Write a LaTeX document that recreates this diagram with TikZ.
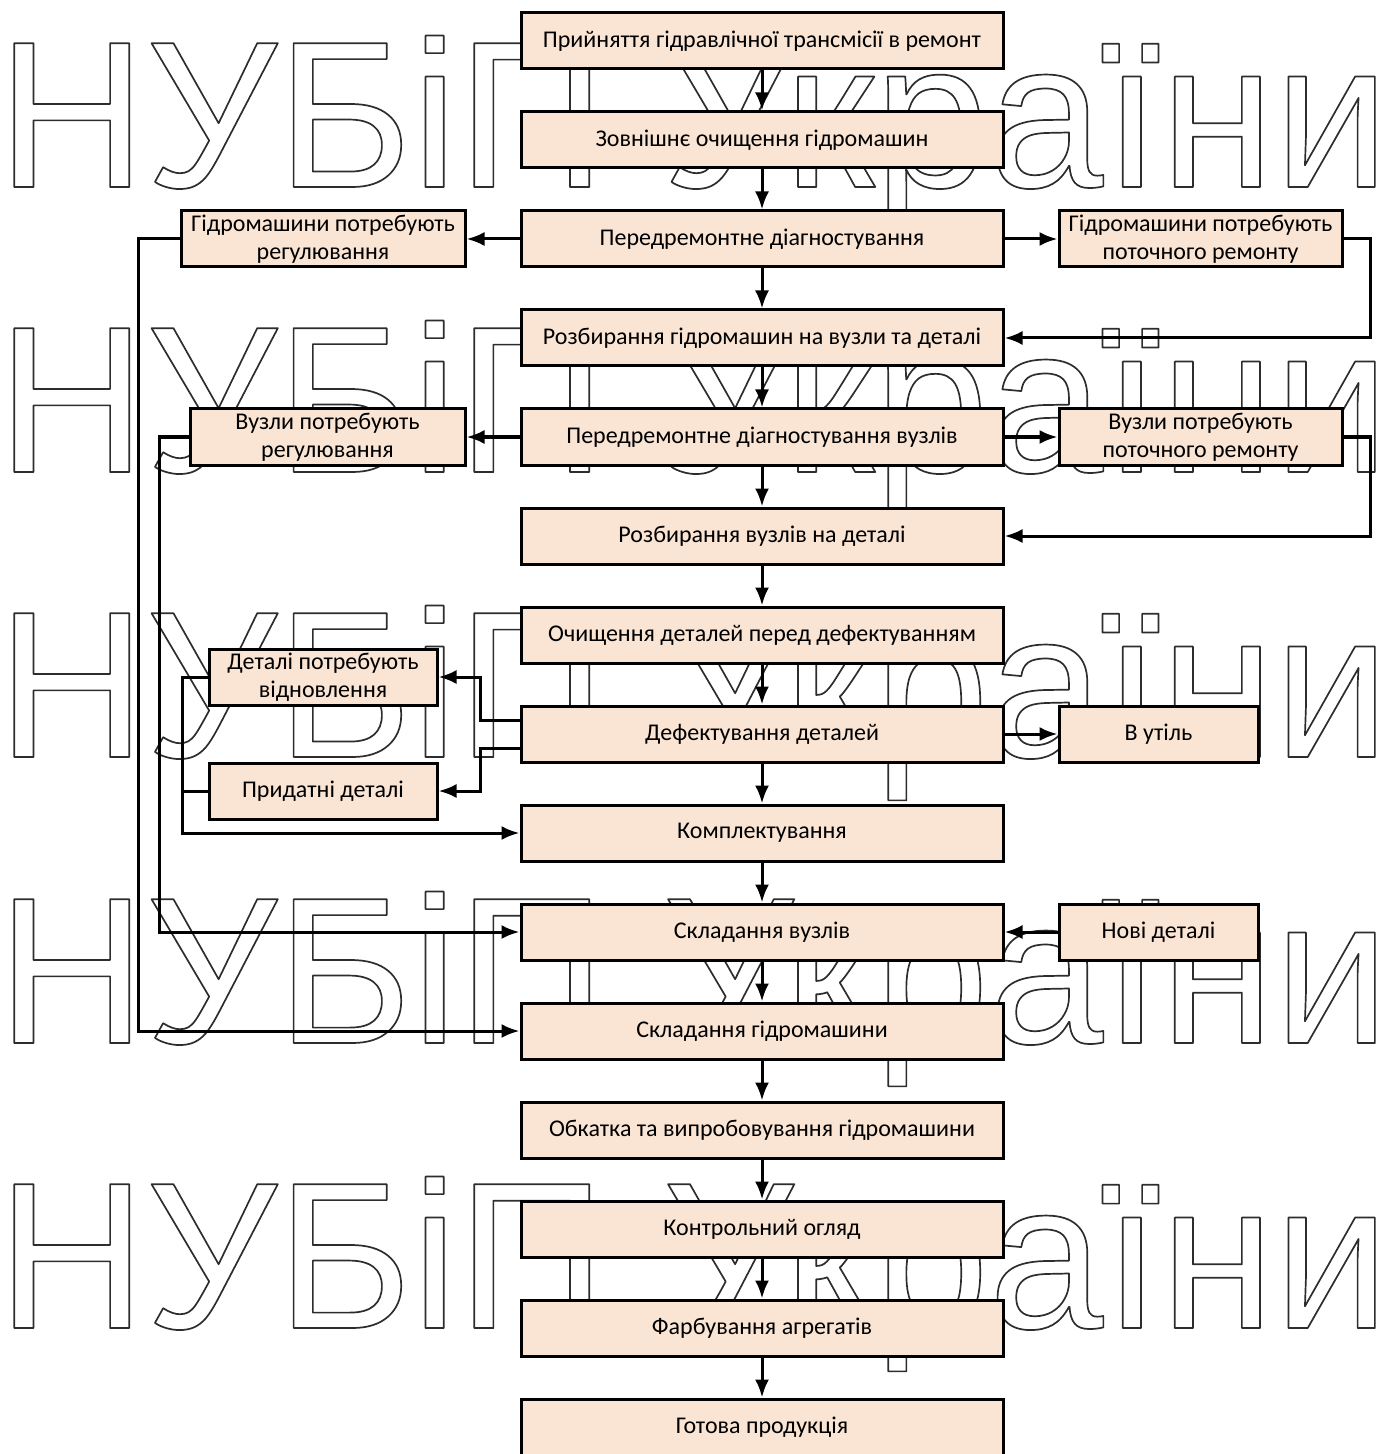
\documentclass[tikz,border=0pt]{standalone}
\usepackage{fontspec}
\setmainfont{Carlito}
\newfontfamily\wmfont{Liberation Sans}
\usetikzlibrary{arrows.meta}
\definecolor{boxfill}{RGB}{250,229,213}
\definecolor{wmcol}{RGB}{45,45,45}
\newcommand\outlinetxt[1]{\special{pdf:literal direct 1 Tr 0.85 w 1 j}#1\special{pdf:literal direct 0 Tr}}
\tikzset{
  mainbox/.style={draw, line width=1.5pt, fill=boxfill, minimum width=241pt,
    minimum height=28pt, inner sep=0pt, font=\fontsize{12}{14}\selectfont, align=center},
  sidebox/.style={mainbox, minimum width=#1},
  conn/.style={line width=1.5pt, -{Latex[length=9pt,width=7pt]}},
  plainline/.style={line width=1.5pt},
  wmnode/.style={anchor=base west, inner sep=0pt, text=wmcol},
}
\begin{document}
\begin{tikzpicture}[x=0.5pt,y=-0.5pt]
\useasboundingbox (0,0) rectangle (1394,1454);
\fill[white] (0,0) rectangle (1394,1454);
% watermark
\foreach \yb [count=\i] in {187,472,757,1043,1328}{
  \node[wmnode] (wm\i) at (-3,\yb) {\scalebox{0.985}[1]{\wmfont\fontsize{104.5}{104.5}\selectfont\outlinetxt{НУБіП України}}};
}
% main column
\foreach \t [count=\k from 0] in {
  Прийняття гідравлічної трансмісії в ремонт,
  Зовнішнє очищення гідромашин,
  Передремонтне діагностування,
  Розбирання гідромашин на вузли та деталі,
  Передремонтне діагностування вузлів,
  Розбирання вузлів на деталі,
  Очищення деталей перед дефектуванням,
  Дефектування деталей,
  Комплектування,
  Складання вузлів,
  Складання гідромашини,
  Обкатка та випробовування гідромашини,
  Контрольний огляд,
  Фарбування агрегатів,
  Готова продукція}{
  \node[mainbox] (m\k) at (762,41+99*\k) {\t};
}
% side boxes
\node[sidebox=142pt] (A) at (323,239) {Гідромашини потребують\\регулювання};
\node[sidebox=141.5pt] (B) at (1200.5,239) {Гідромашини потребують\\поточного ремонту};
\node[sidebox=137.5pt] (C) at (327.5,437) {Вузли потребують\\регулювання};
\node[sidebox=141.5pt] (D) at (1200.5,437) {Вузли потребують\\поточного ремонту};
\node[sidebox=114pt] (E) at (323,677) {Деталі потребують\\відновлення};
\node[sidebox=114pt] (F) at (323,791) {Придатні деталі};
\node[sidebox=99.5pt] (G) at (1158.5,734) {В утіль};
\node[sidebox=99.5pt] (H) at (1158.5,932) {Нові деталі};
% main arrows
\foreach \i in {0,...,13}{
  \pgfmathtruncatemacro\j{\i+1}
  \draw[conn] (m\i.south) -- (m\j.north);
}
% branches
\draw[conn] (m2.west) -- (A.east);
\draw[conn] (m2.east) -- (B.west);
\draw[conn] (m4.west) -- (C.east);
\draw[conn] (m4.east) -- (D.west);
\draw[conn] (m7.east) -- (G.west);
\draw[conn] (H.west) -- (m9.east);
\coordinate (bR1) at (1370,239);
\coordinate (bR2) at (1370,437);
\draw[conn] (B.east) -- (bR1) |- (m3.east);
\draw[conn] (D.east) -- (bR2) |- (m5.east);
\coordinate (bL1) at (138,239);
\coordinate (bL2) at (159,437);
\draw[conn] (A.west) -- (bL1) |- (m10.west);
\draw[conn] (C.west) -- (bL2) |- (m9.west);
\coordinate (d1) at (m7.west |- 0,720);
\coordinate (d2) at (m7.west |- 0,748);
\coordinate (d1k) at (480,720);
\coordinate (d2k) at (480,748);
\draw[conn] (d1) -- (d1k) |- (E.east);
\draw[conn] (d2) -- (d2k) |- (F.east);
\coordinate (e1) at (182,677);
\coordinate (e2) at (182,791);
\draw[conn] (E.west) -- (e1) |- (m8.west);
\draw[plainline] (F.west) -- (e2);
\end{tikzpicture}
\end{document}
